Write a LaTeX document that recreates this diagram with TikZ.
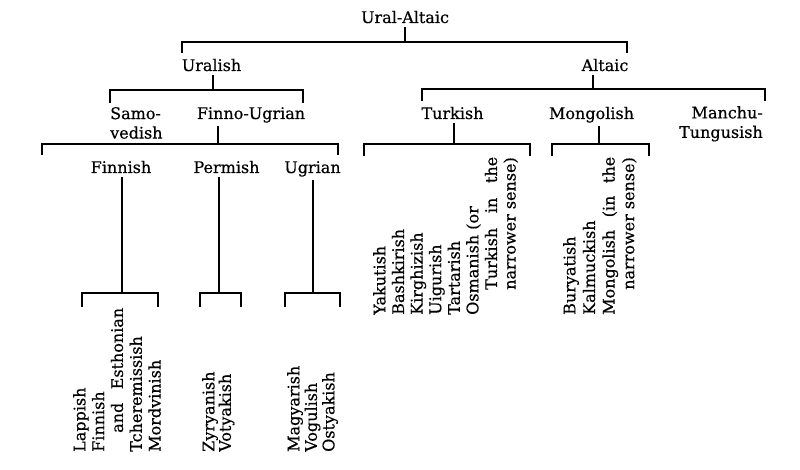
\documentclass[tikz,border=0pt]{standalone}
\usepackage{fontspec}
\setmainfont{DejaVu Serif}[FakeBold=0.5]
\begin{document}
\begin{tikzpicture}[x=1pt,y=-1pt,
  lbl/.style={inner xsep=0pt, inner ysep=3.5pt, anchor=base, font=\fontsize{16}{19.5}\selectfont},
  lblm/.style={inner sep=0pt, font=\fontsize{16}{19.5}\selectfont},
  leaf/.style={inner sep=0pt, rotate=90, anchor=north west, align=left},
  ln/.style={line width=1.4pt}]
\useasboundingbox[fill=white] (0,0) rectangle (800,470);

% labels
\node[lbl] (UA) at (405,23) {Ural-Altaic};
\node[lbl] (UR) at (211.5,71) {Uralish};
\node[lbl] (AL) at (605,71) {Altaic};
\node[lblm, anchor=north west, align=left] (SV) at (110,107) {Samo-\\vedish};
\node[lbl] (FU) at (251,119) {Finno-Ugrian};
\node[lbl] (TU) at (452.5,119) {Turkish};
\node[lbl] (MO) at (591.5,119) {Mongolish};
\node[lblm, anchor=north east, align=right] (MT) at (763,106) {Manchu-\\Tungusish};
\node[lbl] (FI) at (121,173) {Finnish};
\node[lbl] (PE) at (226.5,173) {Permish};
\node[lbl] (UG) at (312.5,173) {Ugrian};

% leaves
\node[leaf, font=\fontsize{16}{18.8}\selectfont] (L1) at (73,452)
  {Lappish\\Finnish\\\hspace*{19pt}\makebox[125pt][s]{and Esthonian}\\Tcheremissish\\Mordvinish};
\node[leaf, font=\fontsize{16}{16.5}\selectfont] (L2) at (202,452)
  {Zyryanish\\Votyakish};
\node[leaf, font=\fontsize{16}{17.5}\selectfont] (L3) at (287,452)
  {Magyarish\\Vogulish\\Ostyakish};
\node[leaf, font=\fontsize{16}{18.6}\selectfont] (L4) at (373,315)
  {Yakutish\\Bashkirish\\Kirghizish\\Uigurish\\Tartarish\\Osmanish (or\\
   \hspace*{25pt}\makebox[133pt][s]{Turkish in the}\\
   \hspace*{25pt}narrower sense)};
\node[leaf, font=\fontsize{16}{19.6}\selectfont] (L5) at (563,315)
  {Buryatish\\Kalmuckish\\\makebox[158pt][s]{Mongolish (in the}\\
   \hspace*{25pt}narrower sense)};

% bracket coordinates
\coordinate (bUA) at (405,42);  \coordinate (tUA1) at (182,53);  \coordinate (tUA2) at (627,53);
\coordinate (bUR) at (213,90);  \coordinate (tUR1) at (110,103); \coordinate (tUR2) at (303,103);
\coordinate (bAL) at (593,89);  \coordinate (tAL1) at (422,101); \coordinate (tAL2) at (765,101);
\coordinate (bFU) at (218,144); \coordinate (tFU1) at (42,155);  \coordinate (tFU2) at (338,155);
\coordinate (bTU) at (454,144); \coordinate (tTU1) at (364,156); \coordinate (tTU2) at (530,156);
\coordinate (bMO) at (599,144); \coordinate (tMO1) at (552,156); \coordinate (tMO2) at (649,156);
\coordinate (bFI) at (122,293); \coordinate (tFI1) at (82,307);  \coordinate (tFI2) at (158,307);
\coordinate (bPE) at (219,293); \coordinate (tPE1) at (200,307); \coordinate (tPE2) at (241,307);
\coordinate (bUG) at (313,293); \coordinate (tUG1) at (285,307); \coordinate (tUG2) at (340,307);

% stems and brackets
\foreach \n in {UA,UR,AL,FU,TU,MO,FI,PE,UG}{
  \draw[ln] (\n.south -| b\n) -- (b\n);
  \draw[ln] (t\n1) |- (b\n) -| (t\n2);
}
\end{tikzpicture}
\end{document}
